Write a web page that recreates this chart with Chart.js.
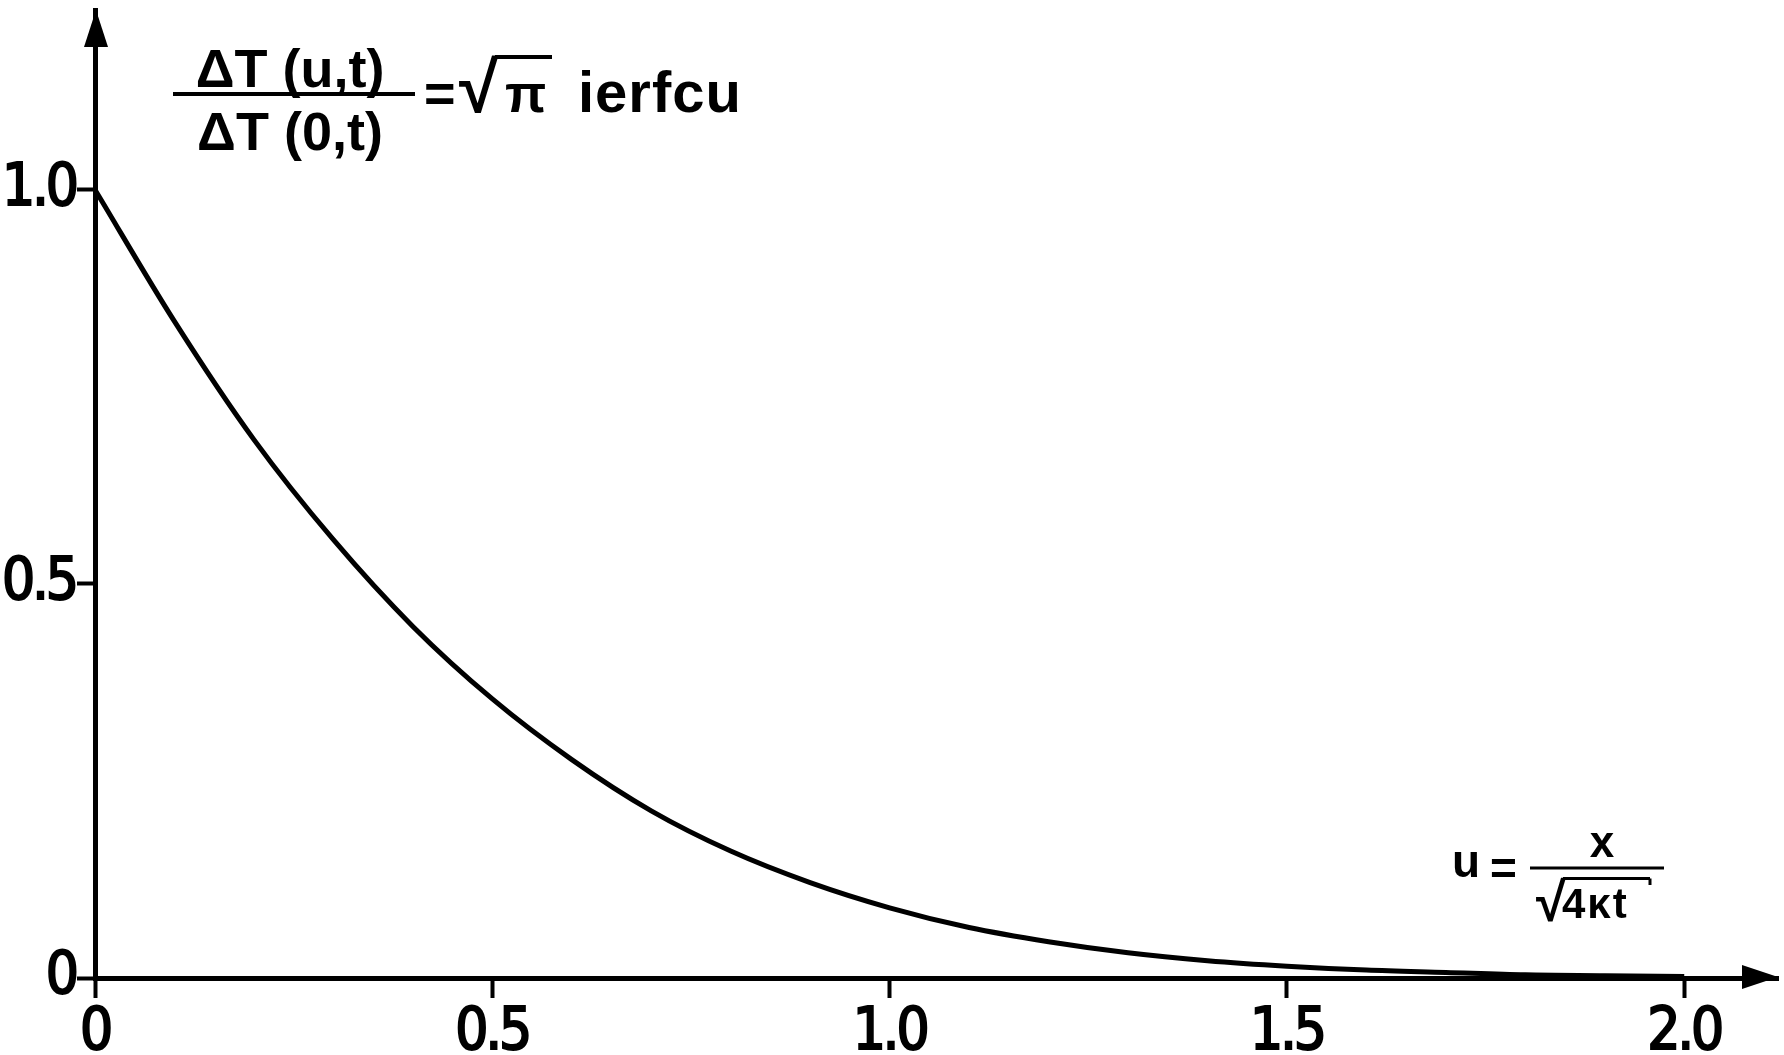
<!DOCTYPE html>
<html>
<head>
<meta charset="utf-8">
<script src="https://cdn.jsdelivr.net/npm/chart.js@4/dist/chart.umd.min.js"></script>
<style>
  html, body { margin: 0; padding: 0; background: #fff; }
  #wrap { position: relative; width: 1784px; height: 1055px; }
</style>
</head>
<body>
<div id="wrap"><canvas id="c"></canvas></div>
<script>
// ---- data ----
const uValues = [0, 0.1, 0.2, 0.3, 0.4, 0.5, 0.6, 0.7, 0.8, 0.9, 1.0, 1.1, 1.2, 1.3, 1.4, 1.5, 1.6, 1.7, 1.8, 1.9, 2.0];
const ratioValues = [1.0, 0.833, 0.683, 0.556, 0.446, 0.354, 0.277, 0.212, 0.161, 0.121, 0.089, 0.064, 0.046, 0.032, 0.022, 0.015, 0.010, 0.007, 0.004, 0.003, 0.002];
const xTickLabels = ['0', '0.5', '1.0', '1.5', '2.0'];
const yTickLabels = ['0', '0.5', '1.0'];
const xMax = 2.118;
const yMax = 1.228;

const points = uValues.map((u, i) => ({ x: u, y: ratioValues[i] }));

const TICK_FONT = '"Liberation Sans Narrow", "DejaVu Sans Condensed", "Liberation Sans", sans-serif';
const TXT_FONT = '"Liberation Sans", Arial, sans-serif';

function drawRadical(ctx, x, baseline, height, barEnd, lw, weight) {
  ctx.font = weight + ' 100px ' + TXT_FONT;
  const m = ctx.measureText('\u221A');
  const h100 = m.actualBoundingBoxAscent + m.actualBoundingBoxDescent;
  const size = 100 * height / h100;
  ctx.font = weight + ' ' + size + 'px ' + TXT_FONT;
  const m2 = ctx.measureText('\u221A');
  const drawBase = baseline - m2.actualBoundingBoxDescent;
  ctx.fillText('\u221A', x, drawBase);
  const top = drawBase - m2.actualBoundingBoxAscent;
  const right = x + m2.actualBoundingBoxRight;
  ctx.lineWidth = lw;
  ctx.beginPath();
  ctx.moveTo(right - lw, top + lw / 2);
  ctx.lineTo(barEnd, top + lw / 2);
  ctx.stroke();
  return { top, right };
}

const tightText = {
  id: 'tightText',
  beforeDraw(chart) { chart.ctx.letterSpacing = '-3px'; }
};

const annotations = {
  id: 'annotations',
  afterDraw(chart) {
    const { ctx, chartArea: a } = chart;
    ctx.save();
    ctx.letterSpacing = '0px';
    ctx.fillStyle = '#000';
    ctx.strokeStyle = '#000';
    // arrowheads
    ctx.beginPath();
    ctx.moveTo(a.right, a.bottom - 1);
    ctx.lineTo(a.right - 36, a.bottom - 13);
    ctx.lineTo(a.right - 36, a.bottom + 11);
    ctx.closePath();
    ctx.fill();
    ctx.beginPath();
    ctx.moveTo(a.left + 1, a.top);
    ctx.lineTo(a.left - 11, a.top + 37);
    ctx.lineTo(a.left + 13, a.top + 37);
    ctx.closePath();
    ctx.fill();

    // y label formula
    ctx.textBaseline = 'alphabetic';
    ctx.textAlign = 'center';
    ctx.font = 'bold 54px ' + TXT_FONT;
    ctx.fillText('\u0394T (u,t)', 290, 87);
    ctx.fillText('\u0394T (0,t)', 290, 150);
    ctx.lineWidth = 4;
    ctx.beginPath();
    ctx.moveTo(173, 94);
    ctx.lineTo(415, 94);
    ctx.stroke();
    ctx.textAlign = 'left';
    ctx.font = 'bold 54px ' + TXT_FONT;
    ctx.fillText('=', 424, 112);
    drawRadical(ctx, 459, 114, 58, 552, 4, 'bold');
    ctx.font = 'bold 54px ' + TXT_FONT;
    ctx.fillText('\u03C0', 505, 112);
    ctx.font = 'bold 58px ' + TXT_FONT;
    ctx.letterSpacing = '1px';
    ctx.fillText('ierfcu', 578, 112);
    ctx.letterSpacing = '0px';

    // x label formula
    ctx.font = 'bold 46px ' + TXT_FONT;
    ctx.fillText('u', 1452, 877);
    ctx.fillText('=', 1490, 884);
    ctx.lineWidth = 3;
    ctx.beginPath();
    ctx.moveTo(1530, 868);
    ctx.lineTo(1664, 868);
    ctx.stroke();
    ctx.textAlign = 'center';
    ctx.font = 'bold 44px ' + TXT_FONT;
    ctx.fillText('x', 1602, 857);
    ctx.textAlign = 'left';
    const r = drawRadical(ctx, 1536, 922, 44, 1650, 3, 'bold');
    ctx.beginPath();
    ctx.moveTo(1650, r.top + 1.5);
    ctx.lineTo(1650, r.top + 8);
    ctx.stroke();
    ctx.font = 'bold 42px ' + TXT_FONT;
    ctx.letterSpacing = '2px';
    ctx.fillText('4\u03BAt', 1562, 918);
    ctx.letterSpacing = '0px';
    ctx.restore();
  }
};

const tickFont = { family: TICK_FONT, size: 58, weight: 'normal' };

new Chart(document.getElementById('c'), {
  type: 'line',
  data: {
    datasets: [{
      data: points,
      borderColor: '#000',
      borderWidth: 5,
      pointRadius: 0,
      fill: false,
      cubicInterpolationMode: 'monotone'
    }]
  },
  options: {
    responsive: true,
    maintainAspectRatio: false,
    animation: false,
    events: [],
    layout: { padding: { top: 10, right: 6, left: 0, bottom: 0 } },
    plugins: { legend: { display: false }, tooltip: { enabled: false } },
    scales: {
      x: {
        type: 'linear',
        min: 0,
        max: xMax,
        afterFit(s) { s.height = 77; s.paddingLeft = 0; s.paddingRight = 0; },
        afterBuildTicks(s) { s.ticks = s.ticks.filter(t => t.value <= 2.0001); },
        border: { display: true, color: '#000', width: 5 },
        grid: { display: true, drawOnChartArea: false, drawTicks: true, tickLength: 20, tickWidth: 4, tickColor: '#000' },
        ticks: {
          stepSize: 0.5,
          includeBounds: false,
          autoSkip: false,
          maxRotation: 0,
          padding: 1,
          color: '#000',
          textStrokeColor: '#000',
          textStrokeWidth: 2,
          font: tickFont,
          callback: (v, i) => xTickLabels[i]
        }
      },
      y: {
        type: 'linear',
        min: 0,
        max: yMax,
        afterFit(s) { s.width = 95; s.paddingTop = 0; s.paddingBottom = 0; },
        afterBuildTicks(s) { s.ticks = s.ticks.filter(t => t.value <= 1.0001); },
        border: { display: true, color: '#000', width: 5 },
        grid: { display: true, drawOnChartArea: false, drawTicks: true, tickLength: 18, tickWidth: 4, tickColor: '#000' },
        ticks: {
          stepSize: 0.5,
          includeBounds: false,
          autoSkip: false,
          padding: 1,
          color: '#000',
          textStrokeColor: '#000',
          textStrokeWidth: 2,
          font: tickFont,
          callback: (v, i) => yTickLabels[i]
        }
      }
    }
  },
  plugins: [tightText, annotations]
});
</script>
</body>
</html>
